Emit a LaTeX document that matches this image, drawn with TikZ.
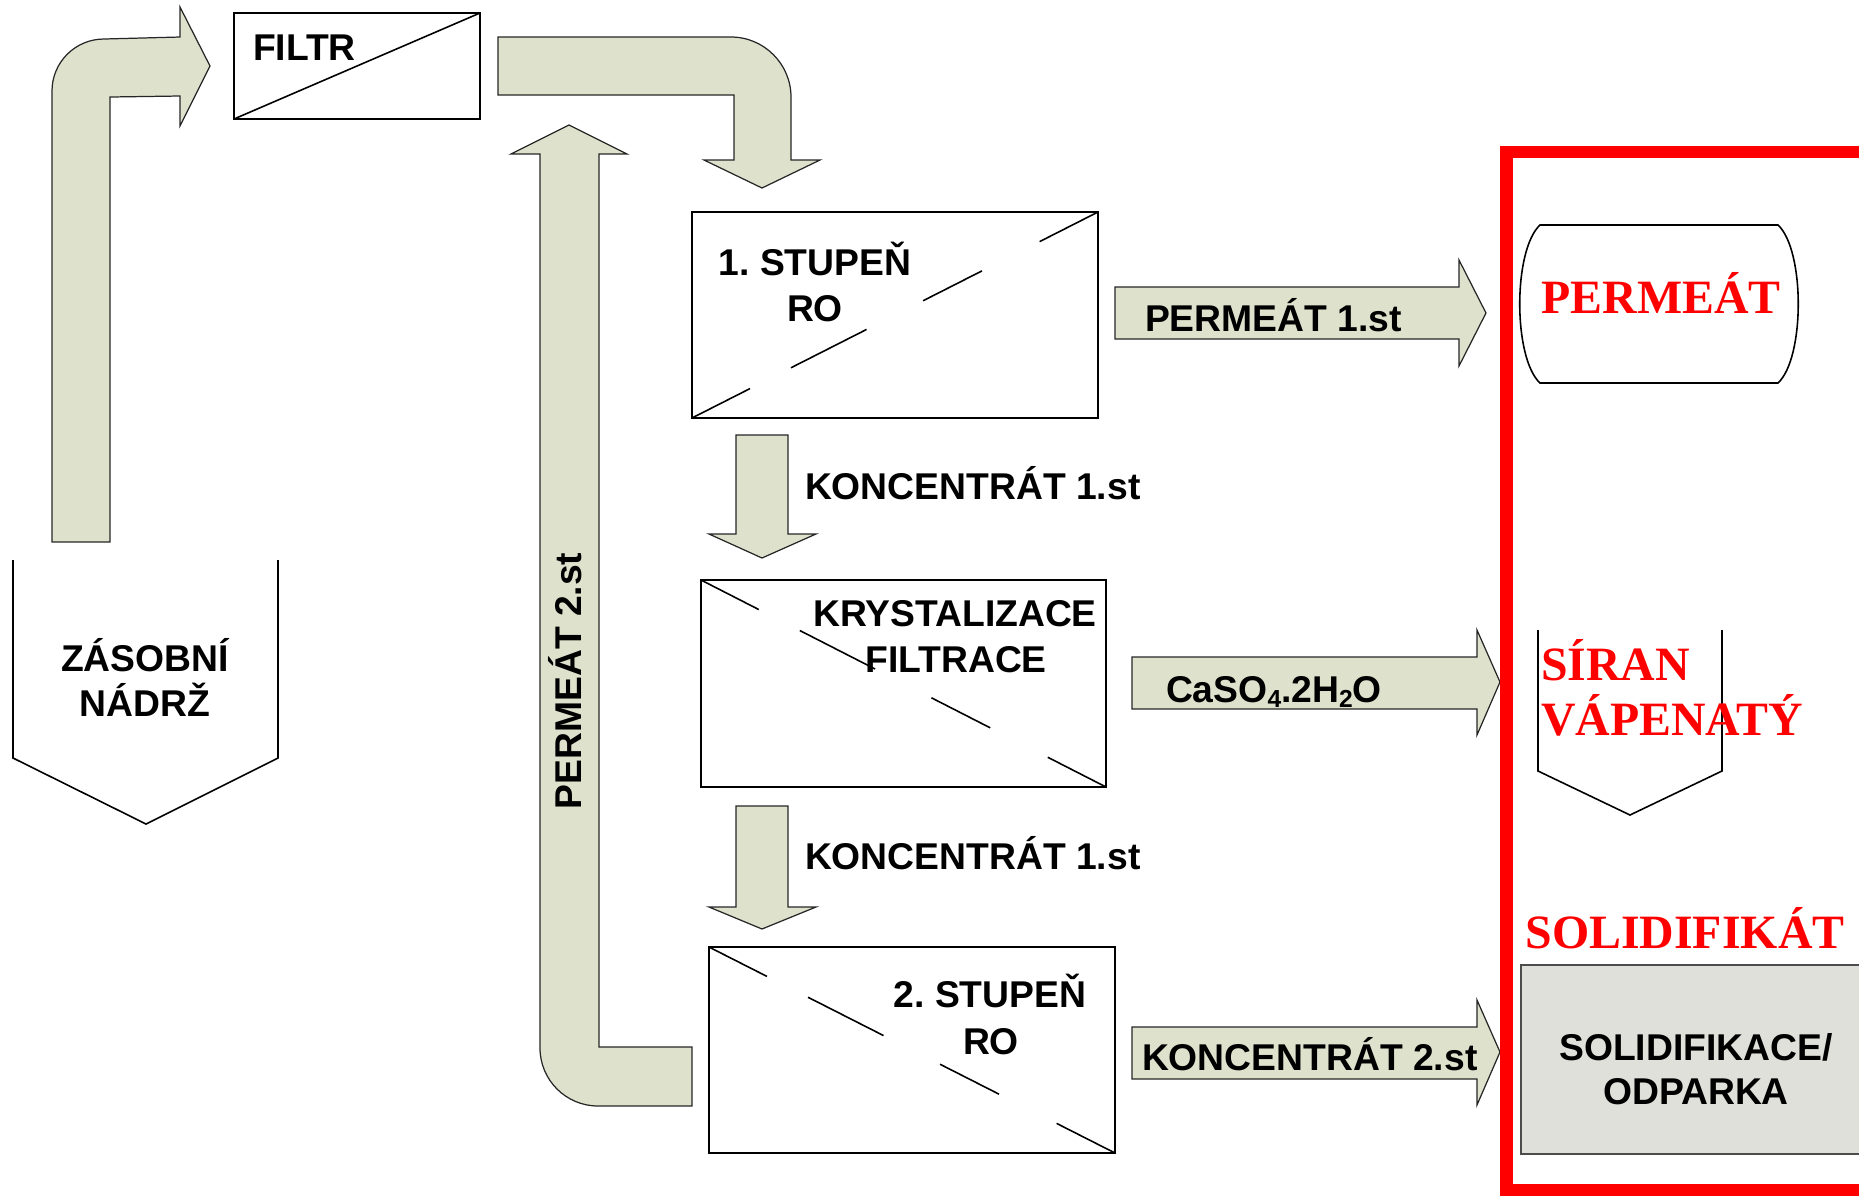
\documentclass[tikz,border=0pt]{standalone}
\usepackage{fontspec}
\setmainfont{Liberation Sans}
\newfontfamily\serifbf{Liberation Serif}
\usetikzlibrary{calc}
\definecolor{arrfill}{RGB}{222,226,205}
\definecolor{solfill}{RGB}{224,224,218}
\definecolor{redc}{RGB}{255,0,0}
\newcommand\lowsub[1]{\raisebox{-0.3ex}{\fontsize{7}{7}\selectfont #1}}
\frenchspacing
\begin{document}
\begin{tikzpicture}[x=0.01cm,y=-0.01cm,
  blk/.style={fill=arrfill, draw=black!85, line width=0.35pt, line join=miter},
  procbox/.style={draw=black, line width=0.45pt, inner sep=0pt, outer sep=0pt},
  diag/.style={draw=black, line width=0.45pt},
  lbl/.style={font=\fontsize{10.6}{12}\selectfont\bfseries\frenchspacing, inner sep=0pt, outer sep=0pt},
  rlbl/.style={font=\serifbf\fontsize{13.6}{15}\selectfont\bfseries, text=redc, inner sep=0pt, outer sep=0pt},
  redframe/.style={draw=redc, line width=0.125cm},
  tank/.style={draw=black, line width=0.45pt, line join=miter}
]
\useasboundingbox (0,0) rectangle (1859,1196);
\clip (0,0) rectangle (1859,1196);

% ---------- block arrows ----------
% tank -> filter
\draw[blk] (52,542) -- (52,91) .. controls (52,62.3) and (75.3,39) .. (104,39)
  -- (180,37) -- (180,7) -- (210,66) -- (180,126) -- (180,96) -- (110,97) -- (110,542) -- cycle;
% filter -> stage 1
\draw[blk] (498,37) -- (731,37) .. controls (764,37) and (791,64) .. (791,97)
  -- (791,160) -- (820,160) -- (762,188) -- (704,160) -- (734,160) -- (734,95) -- (498,95) -- cycle;
% permeate 2 return
\draw[blk] (692,1047) -- (599,1047) -- (599,154) -- (627,154) -- (569,125) -- (511,154) -- (540,154)
  -- (540,1048) .. controls (540,1080) and (566,1106) .. (598,1106) -- (692,1106) -- cycle;
% concentrate 1 down arrows
\draw[blk] (736,435) -- (788,435) -- (788,534) -- (816,534) -- (762,558) -- (709,534) -- (736,534) -- cycle;
\draw[blk] (736,806) -- (788,806) -- (788,907) -- (816,907) -- (762,929) -- (709,907) -- (736,907) -- cycle;
% right arrows
\draw[blk] (1115,287) -- (1459,287) -- (1459,260) -- (1486,313) -- (1459,366) -- (1459,339) -- (1115,339) -- cycle;
\draw[blk] (1132,657) -- (1477,657) -- (1477,630) -- (1500,682) -- (1477,735) -- (1477,709) -- (1132,709) -- cycle;
\draw[blk] (1132,1027) -- (1477,1027) -- (1477,1000) -- (1500,1052) -- (1477,1105) -- (1477,1079) -- (1132,1079) -- cycle;

% ---------- process boxes ----------
\node[procbox, minimum width=2.46cm, minimum height=1.06cm] (filtr) at (357,66) {};
\draw[diag] (filtr.south west) -- (filtr.north east);
\node[lbl, anchor=base west] (filtrT) at (253,60) {FILTR};

\node[procbox, minimum width=4.06cm, minimum height=2.06cm] (st1) at (895,315) {};
\foreach \a/\b in {0/0.143,0.244/0.43,0.569/0.714,0.856/1}
  \draw[diag] ($(st1.south west)!\a!(st1.north east)$) -- ($(st1.south west)!\b!(st1.north east)$);
\node[lbl, anchor=base] (st1a) at (815,275) {1. STUPEŇ};
\node[lbl, anchor=base] (st1b) at (815,321) {RO};

\node[procbox, minimum width=4.05cm, minimum height=2.07cm] (kr) at (903.5,683.5) {};
\foreach \a/\b in {0/0.143,0.244/0.43,0.569/0.714,0.856/1}
  \draw[diag] ($(kr.north west)!\a!(kr.south east)$) -- ($(kr.north west)!\b!(kr.south east)$);
\node[lbl, anchor=base] (kra) at (955,626) {KRYSTALIZACE};
\node[lbl, anchor=base] (krb) at (956,672) {FILTRACE};

\node[procbox, minimum width=4.06cm, minimum height=2.06cm] (st2) at (912,1050) {};
\foreach \a/\b in {0/0.143,0.244/0.43,0.569/0.714,0.856/1}
  \draw[diag] ($(st2.north west)!\a!(st2.south east)$) -- ($(st2.north west)!\b!(st2.south east)$);
\node[lbl, anchor=base] (st2a) at (990,1007) {2. STUPEŇ};
\node[lbl, anchor=base] (st2b) at (991,1054) {RO};

% ---------- tank ----------
\draw[tank] (13,560) -- (13,758) -- (146,824) -- (278,758) -- (278,560);
\node[lbl, anchor=base] (tankA) at (145,671) {ZÁSOBNÍ};
\node[lbl, anchor=base] (tankB) at (145,716) {NÁDRŽ};

% ---------- arrow labels ----------
\node[lbl, anchor=base, rotate=90] (perm2) at (581,681) {PERMEÁT 2.st};
\node[lbl, anchor=base west] (konc1a) at (805,499) {KONCENTRÁT 1.st};
\node[lbl, anchor=base west] (konc1b) at (805,869) {KONCENTRÁT 1.st};
\node[lbl, anchor=base west] (perm1) at (1145,331) {PERMEÁT 1.st};
\node[lbl, anchor=base west] (caso) at (1166,702) {CaSO\lowsub{4}.2H\lowsub{2}O};
\node[lbl, anchor=base west] (konc2) at (1142,1070) {KONCENTRÁT 2.st};

% ---------- outputs ----------
\draw[tank] (1540,225) -- (1778,225) .. controls (1805,250) and (1805,358) .. (1778,383)
  -- (1540,383) .. controls (1513,358) and (1513,250) .. (1540,225) -- cycle;
\node[rlbl, anchor=base] (permR) at (1661,313) {PERMEÁT};

\draw[tank] (1538,630) -- (1538,771) -- (1630,815) -- (1722,771) -- (1722,630);
\node[rlbl, anchor=base west] (siranA) at (1541,680) {SÍRAN};
\node[rlbl, anchor=base west] (siranB) at (1541,735) {VÁPENATÝ};

\node[rlbl, anchor=base] (solR) at (1685,948) {SOLIDIFIKÁT};
\node[procbox, fill=solfill, draw=black!70, minimum width=3.49cm, minimum height=1.89cm] (solbox) at (1695.5,1059.5) {};
\node[lbl, anchor=base] (solA) at (1696,1060) {SOLIDIFIKACE/};
\node[lbl, anchor=base] (solB) at (1696,1104) {ODPARKA};

% ---------- red frame ----------
\draw[redframe] (1506.5,152) rectangle (1880,1190);
\end{tikzpicture}
\end{document}
